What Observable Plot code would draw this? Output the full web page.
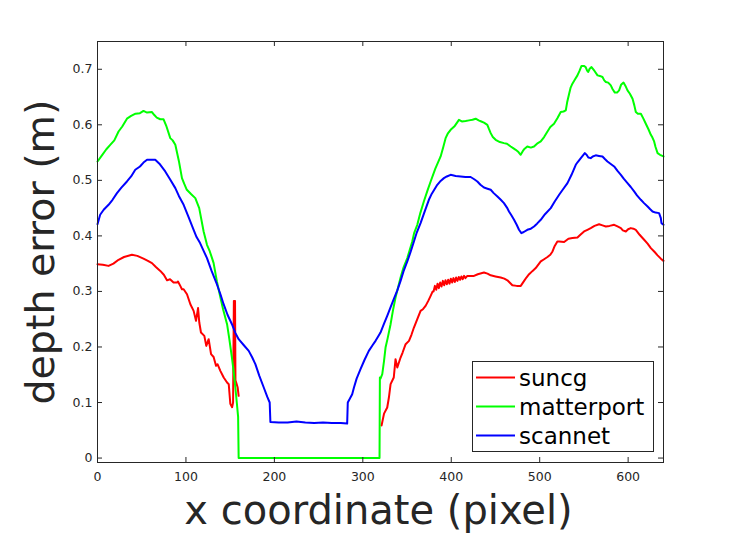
<!DOCTYPE html>
<html><head><meta charset="utf-8">
<script src="https://cdn.jsdelivr.net/npm/d3@7"></script>
<script src="https://cdn.jsdelivr.net/npm/@observablehq/plot@0.6"></script>
<style>
html,body{margin:0;padding:0;background:#fff;}
#wrap{position:relative;width:734px;height:534px;font-family:"DejaVu Sans",sans-serif;}
#legend{position:absolute;left:472px;top:361px;}
</style></head><body><div id="wrap"></div>
<script>
const seriesNames = ["suncg", "matterport", "scannet"];
const seriesColors = ["#ff0000", "#00ff00", "#0000ff"];
const xTicks = [0, 100, 200, 300, 400, 500, 600];
const yTicks = [0, 0.1, 0.2, 0.3, 0.4, 0.5, 0.6, 0.7];
const yTickLabels = ["0", "0.1", "0.2", "0.3", "0.4", "0.5", "0.6", "0.7"];
const xLabel = "x coordinate (pixel)";
const yLabel = "depth error (m)";

const suncgX = [0,6,12.5,18,23.8,30,38.9,45,52,57,61.6,66,71,75,78.6,82,86,89.9,91,93.6,95.5,97.4,101.2,105,108.7,111.4,113.7,115.1,117,120.8,123,125.7,128.4,131.3,134,135.7,138.9,142.7,146.5,148.4,150.2,152.2,153.3,154.2,155.5,156,157,158.5,159.6,
  240,
  321.2,324,327.6,329.5,331.4,335,337,339,342.7,345,348.4,352.2,355,357.8,361.6,365.3,368,371,374,376.7,379,380,381.5,383,384.5,386,387.5,389,390.5,392,393.5,395,396.5,398,399.5,401,402.5,404,405.5,407,408.5,410,411.5,413,414.5,416,418.2,
  421,425.7,430,437,441,444.6,450,455.9,460,463.5,466,469.1,474,478.6,482.4,485,488,492,495.5,501.2,505,508.8,512,514.5,517,520,522,527.6,532.5,537,542.7,546,550.2,554,557.7,562,567.2,571,574.8,579,584.2,588,591.8,594,597.4,600,603,606,608.7,613,618.1,622,625.7,630,633.3,637,640];
const suncgY = [0.349,0.348,0.346,0.350,0.357,0.362,0.366,0.364,0.359,0.355,0.351,0.344,0.337,0.330,0.320,0.322,0.316,0.316,0.318,0.310,0.304,0.304,0.295,0.277,0.265,0.247,0.270,0.244,0.226,0.220,0.202,0.214,0.187,0.182,0.166,0.169,0.157,0.145,0.136,0.133,0.0975,0.0915,0.100,0.283,0.283,0.140,0.135,0.127,0.112,
  NaN,
  0.0586,0.080,0.091,0.109,0.133,0.145,0.178,0.163,0.181,0.190,0.205,0.211,0.222,0.235,0.250,0.265,0.268,0.274,0.283,0.292,0.300,0.300,0.310,0.303,0.314,0.306,0.316,0.309,0.319,0.311,0.320,0.313,0.321,0.314,0.323,0.316,0.324,0.317,0.325,0.319,0.326,0.321,0.327,0.322,0.328,0.324,0.328,
  0.328,0.328,0.331,0.334,0.332,0.329,0.327,0.325,0.323,0.320,0.316,0.311,0.310,0.310,0.319,0.325,0.331,0.337,0.342,0.354,0.358,0.362,0.366,0.372,0.382,0.390,0.390,0.389,0.395,0.396,0.397,0.402,0.408,0.411,0.414,0.418,0.421,0.419,0.417,0.418,0.420,0.417,0.414,0.410,0.408,0.412,0.414,0.413,0.411,0.402,0.393,0.386,0.378,0.371,0.365,0.359,0.355];

const matterportX = [0,5,10,14.4,19,23.8,28,33.3,38,43,48,52,56,61.6,64,67,71,74.7,78,82.3,85,88,92,95.5,98,101,106,110.6,115,120,123.8,127,129.5,131.3,135,139,142,146.5,149,152,154,155.9,157.5,159,159.6,200,250,300,318.9,
  319.3,320,322,324,325.7,328,331.4,334,337,340,342.7,346,350.3,355.9,358,361.6,365,369,373,376.7,382,388,391,393.6,396,399.3,404,408.7,412,416.3,420,424,427.6,431,434,437,440.8,442.5,444.6,447,450.2,455,459.6,463,467.2,470,472.9,476,478.5,481,483,486,490,493.6,497,501.2,505,508.8,512,516.2,520,523.8,527,529.5,531,533.3,535,537,540,542.7,545,547.3,550,552,553.5,554.8,556.5,558.6,562,565.4,568,571,573,574.8,577.5,580.4,582.5,585,587.5,589.8,592,594.8,597,599.3,602,605,607,608.7,611,614.4,617,620,623,625.7,627.5,629.4,631,633.3,636,640];
const matterportY = [0.534,0.545,0.556,0.564,0.572,0.588,0.597,0.611,0.616,0.620,0.621,0.625,0.622,0.623,0.618,0.613,0.610,0.610,0.597,0.576,0.572,0.564,0.535,0.504,0.494,0.483,0.475,0.468,0.450,0.408,0.384,0.372,0.360,0.351,0.318,0.289,0.268,0.241,0.215,0.181,0.155,0.127,0.100,0.074,0,0,0,0,0,
  0.145,0.143,0.151,0.175,0.199,0.215,0.241,0.265,0.289,0.308,0.325,0.343,0.360,0.390,0.405,0.420,0.441,0.462,0.481,0.498,0.521,0.543,0.560,0.576,0.584,0.591,0.598,0.609,0.606,0.607,0.608,0.609,0.611,0.608,0.606,0.604,0.600,0.593,0.585,0.578,0.573,0.569,0.567,0.566,0.561,0.558,0.555,0.551,0.546,0.553,0.557,0.561,0.559,0.561,0.566,0.570,0.578,0.588,0.596,0.602,0.612,0.623,0.624,0.626,0.640,0.656,0.667,0.674,0.682,0.689,0.697,0.706,0.706,0.704,0.698,0.695,0.701,0.704,0.697,0.689,0.688,0.686,0.680,0.677,0.676,0.671,0.664,0.658,0.658,0.662,0.672,0.676,0.670,0.662,0.656,0.647,0.635,0.623,0.620,0.620,0.612,0.602,0.592,0.582,0.577,0.570,0.560,0.549,0.546,0.543];

const scannetX = [0,3,7,12.5,17,22,27,33.3,38,42.7,48,52,56,60,65.3,70,76.6,82,88,92,97.4,103,108.7,112,116,120,123.8,129,135,139,142.6,147,152,156,159.6,165,171,175,178.5,183,188,192,194.7,195.5,205,215,225,235,245,255,265,275,282.3,
  283,288,290,293,297.4,302,306.8,311,314.4,317,320,324,327.6,331,335,339,342.7,346,350.3,354,357.8,361,365.3,370,374.7,378,384.2,388,391.7,395,399.3,405,410.6,416,421.9,426,429.5,433,437,441,444.6,448,452.2,456,459.6,463,465.3,468,471,474,476.6,479.3,482,486,490,493.6,497,501.2,506,512.5,517,522,526,531.4,536,540.8,543,546.5,549,551,553,555,557.7,560,563.4,567,571,574,576.6,580,584.2,588,591.8,595,599.3,603,606.8,610,614.4,618,622,625,627.6,631,635,637,637.7,640];
const scannetY = [0.421,0.438,0.447,0.456,0.465,0.477,0.487,0.498,0.507,0.519,0.525,0.532,0.537,0.537,0.537,0.530,0.516,0.502,0.486,0.472,0.456,0.434,0.411,0.398,0.387,0.373,0.360,0.337,0.313,0.295,0.277,0.258,0.241,0.225,0.214,0.204,0.193,0.181,0.169,0.148,0.127,0.110,0.100,0.065,0.064,0.064,0.066,0.064,0.063,0.064,0.063,0.063,0.062,
  0.100,0.115,0.127,0.143,0.160,0.177,0.193,0.203,0.211,0.218,0.226,0.242,0.256,0.270,0.286,0.302,0.319,0.336,0.354,0.371,0.390,0.406,0.423,0.444,0.465,0.476,0.492,0.499,0.504,0.507,0.510,0.508,0.507,0.506,0.506,0.502,0.498,0.492,0.487,0.485,0.483,0.477,0.471,0.465,0.459,0.451,0.444,0.437,0.429,0.420,0.411,0.405,0.407,0.411,0.413,0.417,0.422,0.429,0.439,0.450,0.462,0.474,0.483,0.495,0.510,0.528,0.533,0.540,0.545,0.549,0.546,0.541,0.540,0.543,0.545,0.544,0.543,0.538,0.534,0.530,0.525,0.517,0.510,0.503,0.495,0.488,0.480,0.473,0.465,0.459,0.453,0.448,0.444,0.442,0.441,0.432,0.423,0.420];

const rows = [];
function addSeries(name, xs, ys) { xs.forEach((x, i) => rows.push({series: name, x, y: ys[i]})); }
addSeries("suncg", suncgX, suncgY);
addSeries("matterport", matterportX, matterportY);
addSeries("scannet", scannetX, scannetY);

const ink = "#262626";
const plot = Plot.plot({
  width: 734, height: 534,
  marginLeft: 97, marginRight: 71, marginTop: 41, marginBottom: 72,
  style: {fontFamily: "'DejaVu Sans', sans-serif", background: "#fff", color: ink},
  x: {domain: [0, 640]},
  y: {domain: [-0.008, 0.75]},
  color: {domain: seriesNames, range: seriesColors},
  marks: [
    Plot.line(rows, {x: "x", y: "y", z: "series", stroke: "series", strokeWidth: 2}),
    Plot.axisX({ticks: xTicks, tickSize: 0, tickPadding: 10, fontSize: 12.5, label: null, tickFormat: d => String(d), fill: ink}),
    Plot.axisY({ticks: yTicks, tickSize: 0, tickPadding: 5, fontSize: 12.5, label: null, tickFormat: d => yTickLabels[yTicks.indexOf(d)] ?? String(d), fill: ink}),
    Plot.tickX(xTicks, {x: d => d, insetTop: 416, stroke: ink}),
    Plot.tickX(xTicks, {x: d => d, insetBottom: 416, stroke: ink}),
    Plot.tickY(yTicks, {y: d => d, insetRight: 561, stroke: ink}),
    Plot.tickY(yTicks, {y: d => d, insetLeft: 561, stroke: ink}),
    Plot.frame({stroke: ink}),
    Plot.text([xLabel], {text: d => d, frameAnchor: "bottom", dy: 61, dx: -2, lineAnchor: "bottom", textAnchor: "middle", fontSize: 40, fill: ink}),
    Plot.text([yLabel], {text: d => d, frameAnchor: "left", dx: -44, rotate: -90, lineAnchor: "bottom", textAnchor: "middle", fontSize: 39.5, fill: ink})
  ]
});
const wrap = document.getElementById("wrap");
wrap.appendChild(plot);

// legend
const lw = 181, lh = 90;
const leg = d3.select(wrap).append("svg").attr("id", "legend").attr("width", lw + 1).attr("height", lh + 1);
leg.append("rect").attr("x", 0.5).attr("y", 0.5).attr("width", lw).attr("height", lh)
  .attr("fill", "#fff").attr("stroke", ink).attr("stroke-width", 1);
seriesNames.forEach((name, i) => {
  const cy = 16.5 + i * 29;
  leg.append("line").attr("x1", 4).attr("x2", 43).attr("y1", cy).attr("y2", cy)
    .attr("stroke", seriesColors[i]).attr("stroke-width", 2);
  leg.append("text").attr("x", 47).attr("y", cy).attr("dy", "0.35em")
    .attr("font-family", "'DejaVu Sans', sans-serif").attr("font-size", 23).attr("fill", "#000").text(name);
});
</script></body></html>
